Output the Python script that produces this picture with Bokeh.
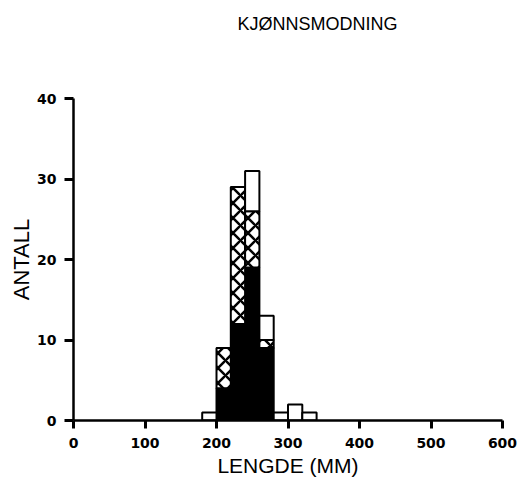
from bokeh.plotting import figure
from bokeh.models import Title, Range1d, FixedTicker
from bokeh.embed import file_html
from bokeh.resources import INLINE

# Data (length classes in mm, counts per maturity stage)
bin_centers = [190, 210, 230, 250, 270, 290, 310, 330]
mature = [0, 4, 12, 19, 9, 0, 0, 0]
maturing = [0, 5, 17, 7, 1, 0, 0, 0]
immature = [1, 0, 0, 5, 3, 1, 2, 1]
x_ticks = [0, 100, 200, 300, 400, 500, 600]
y_ticks = [0, 10, 20, 30, 40]
title_text = "KJØNNSMODNING"
x_label = "LENGDE (MM)"
y_label = "ANTALL"

p = figure(width=518, height=483, output_backend="svg", toolbar_location=None,
           x_range=Range1d(0, 600), y_range=Range1d(0, 40),
           min_border_left=73, min_border_right=16, min_border_top=98, min_border_bottom=63)
p.outline_line_color = None
p.xgrid.grid_line_color = None
p.ygrid.grid_line_color = None
p.background_fill_color = "white"
p.border_fill_color = "white"

bottoms = [0] * len(bin_centers)
tops1 = [a for a in mature]
tops2 = [a + b for a, b in zip(mature, maturing)]
tops3 = [a + b + c for a, b, c in zip(mature, maturing, immature)]

p.vbar(x=bin_centers, width=20, bottom=bottoms, top=tops1, fill_color="black",
       line_color="black", line_width=2)
p.vbar(x=bin_centers, width=20, bottom=tops1, top=tops2, fill_color="white",
       hatch_pattern="diagonal_cross", hatch_color="black", hatch_scale=15, hatch_weight=2.5,
       line_color="black", line_width=2)
p.vbar(x=bin_centers, width=20, bottom=tops2, top=tops3, fill_color="white",
       line_color="black", line_width=2)

for ax in (p.xaxis[0], p.yaxis[0]):
    ax.axis_line_width = 2.5
    ax.major_tick_line_width = 3
    ax.minor_tick_line_color = None
    ax.major_tick_in = 0
    ax.major_label_text_font = "DejaVu Sans"
    ax.major_label_text_font_style = "bold"
    ax.major_label_text_font_size = "14px"
    ax.axis_label_text_font = "Liberation Sans"
    ax.axis_label_text_font_style = "normal"
    ax.axis_label_text_color = "black"
    ax.major_label_text_color = "black"

p.xaxis.ticker = FixedTicker(ticks=x_ticks)
p.yaxis.ticker = FixedTicker(ticks=y_ticks)
p.xaxis.major_tick_out = 8
p.yaxis.major_tick_out = 9
p.xaxis.major_label_standoff = 9
p.yaxis.major_label_standoff = 8
p.xaxis.axis_label = x_label
p.yaxis.axis_label = y_label
p.xaxis.axis_label_text_font_size = "21px"
p.yaxis.axis_label_text_font_size = "22px"
p.xaxis.axis_label_standoff = 3
p.yaxis.axis_label_standoff = 0

spacer = Title(text=" ", text_font_size="50px", standoff=0)
p.add_layout(spacer, "above")
title = Title(text=title_text, align="left", offset=164, vertical_align="top",
              text_font="Liberation Sans", text_font_size="18px",
              text_font_style="normal", text_color="black")
p.add_layout(title, "above")

open("out.html", "w").write(file_html(p, INLINE))
